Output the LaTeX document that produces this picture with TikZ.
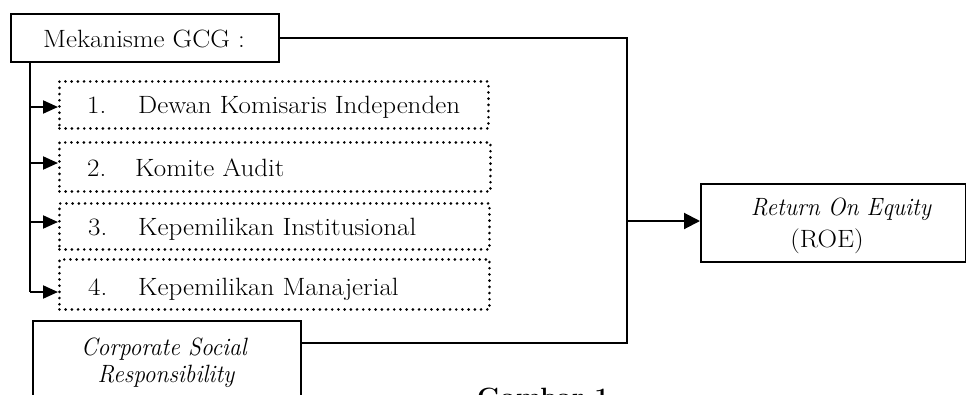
\documentclass[tikz,border=0pt]{standalone}
\usepackage{fontspec}
\setmainfont[FakeStretch=1.08,ItalicFeatures={FakeStretch=0.94}]{Latin Modern Roman}
\usetikzlibrary{arrows.meta,calc}
\begin{document}
\begin{tikzpicture}[x=1pt,y=-1pt,
  solidbox/.style={draw,line width=1.7pt,anchor=north west,inner sep=0pt,align=center},
  dotbox/.style={draw,line width=2.9pt,line cap=round,dash pattern=on 0pt off 6.2pt,anchor=north west,inner sep=0pt},
  conn/.style={line width=1.8pt},
  arr/.style={line width=2pt,-{Triangle[length=15pt,width=13pt]}},
  bigarr/.style={line width=2pt,-{Triangle[length=16pt,width=16pt]}},
  txt/.style={inner sep=0pt,anchor=base west,font=\fontsize{25}{29}\selectfont}]
\useasboundingbox (0,0) rectangle (966,394);
\clip (0,0) rectangle (966,394);
% boxes
\node[solidbox,minimum width=268pt,minimum height=48pt] (gcg) at (10,13) {};
\node[txt,anchor=base] (gcgt) at (144,47) {Mekanisme GCG :};
\node[dotbox,minimum width=429pt,minimum height=47pt] (d1) at (58,80) {};
\node[dotbox,minimum width=431pt,minimum height=49pt] (d2) at (58,141) {};
\node[dotbox,minimum width=430pt,minimum height=46pt] (d3) at (58,202) {};
\node[dotbox,minimum width=430pt,minimum height=50pt] (d4) at (58,258) {};
\node[txt] (n1) at (87,113) {1.};
\node[txt] (t1) at (138,113) {Dewan Komisaris Independen};
\node[txt] (n2) at (87,176) {2.};
\node[txt] (t2) at (135,176) {Komite Audit};
\node[txt] (n3) at (88,235) {3.};
\node[txt] (t3) at (138,235) {Kepemilikan Institusional};
\node[txt] (n4) at (88,295) {4.};
\node[txt] (t4) at (138,295) {Kepemilikan Manajerial};
\node[solidbox,minimum width=265pt,minimum height=78pt] (roe) at (700,183) {};
\node[txt,anchor=base] (roet1) at (841,215) {\itshape Return On Equity};
\node[txt,anchor=base] (roet2) at (827,247) {(ROE)};
\node[solidbox,minimum width=268pt,minimum height=110pt] (csr) at (32,320) {};
\node[txt,anchor=base] (csrt1) at (164,355) {\itshape Corporate Social};
\node[txt,anchor=base] (csrt2) at (166,382) {\itshape Responsibility};
\node[txt,anchor=base west,font=\fontsize{25}{29}\selectfont\bfseries] (cap) at (477,405) {Gambar 1};
% junction coordinates
\coordinate (j1) at (627,38);
\coordinate (j2) at (627,343);
\coordinate (j3) at (627,221);
\coordinate (v0) at (30,61);
\coordinate (a1) at (30,107);
\coordinate (a2) at (30,163);
\coordinate (a3) at (30,222);
\coordinate (a4) at (30,292);
% connectors
\draw[conn] (gcg.east |- j1) -- (j1) -- (j2) -- (csr.east |- j2);
\draw[bigarr] (j3) -- (roe.west |- j3);
\draw[conn] (v0) -- (a4);
\draw[arr] (a1) -- (d1.west |- a1);
\draw[arr] (a2) -- (d2.west |- a2);
\draw[arr] (a3) -- (d3.west |- a3);
\draw[arr] (a4) -- (d4.west |- a4);
\end{tikzpicture}
\end{document}
